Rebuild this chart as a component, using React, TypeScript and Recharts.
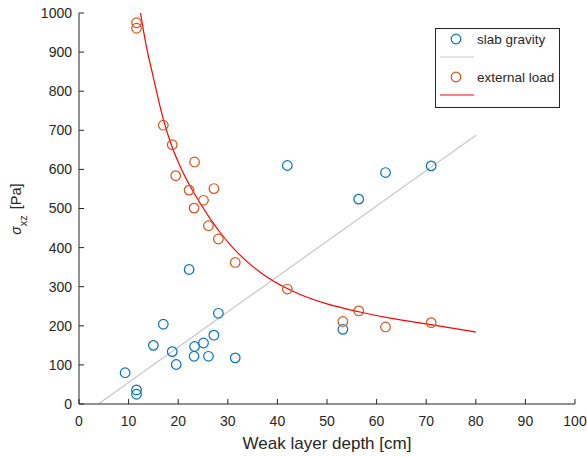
import React from 'react';
import { ComposedChart, Scatter, Line, XAxis, YAxis, Legend } from 'recharts';

// Weak layer depth [cm] vs shear stress [Pa]
const slabDepth = [9.3, 11.6, 11.6, 15.0, 17.0, 18.8, 19.6, 22.2, 23.2, 23.3, 25.1, 26.1, 27.2, 28.1, 31.5, 42.0, 53.2, 56.4, 61.8, 71.0];
const slabStress = [80, 36, 25, 150, 204, 134, 101, 344, 122, 147, 156, 122, 176, 232, 118, 610, 191, 524, 592, 609];

const loadDepth = [11.6, 11.6, 17.0, 18.8, 23.3, 19.5, 22.2, 27.2, 25.1, 23.2, 26.1, 28.1, 31.5, 42.0, 53.2, 56.4, 61.8, 71.0];
const loadStress = [975, 961, 713, 663, 619, 584, 547, 551, 521, 501, 456, 422, 362, 294, 211, 238, 197, 208];

// fitted trends
const gravityFitDepth = [3.9, 80.1];
const gravityFitStress = [0, 688];
const loadFitDepth = [12.4, 13.5, 15, 17, 18.7, 20.5, 22.5, 24.5, 26.5, 28.5, 31, 33.9, 38.2, 44.6, 50, 56.4, 63, 70.9, 80];
const loadFitStress = [1000, 920, 835, 728, 660, 605, 555, 512, 473, 438, 400, 364, 322, 280, 256, 236, 219, 203, 184];

const xTicks = [0, 10, 20, 30, 40, 50, 60, 70, 80, 90, 100];
const yTicks = [0, 100, 200, 300, 400, 500, 600, 700, 800, 900, 1000];

const legendItems = [
  { label: 'slab gravity', marker: '#0072BD', line: '#C8C8C8' },
  { label: 'external load', marker: '#D95319', line: '#FF0000' },
];

const zip = (xs: number[], ys: number[]) => xs.map((x, i) => ({ x, y: ys[i] }));

const slabData = zip(slabDepth, slabStress);
const loadData = zip(loadDepth, loadStress);
const gravityFit = zip(gravityFitDepth, gravityFitStress);
const loadFit = zip(loadFitDepth, loadFitStress);

const FONT = '"Liberation Sans", Arial, Helvetica, sans-serif';
const INK = '#262626';

const ring = (color: string) => (props: any) => (
  <circle cx={props.cx} cy={props.cy} r={4.8} fill="none" stroke={color} strokeWidth={1.2} />
);

const YTitle = () => (
  <text
    x={0}
    y={0}
    transform="translate(21, 209) rotate(-90)"
    textAnchor="middle"
    fontFamily={FONT}
    fill={INK}
  >
    <tspan fontStyle="italic" fontSize={14}>σ</tspan>
    <tspan fontSize={11} dy={6}>xz</tspan>
    <tspan fontSize={14.5} dx={6} dy={-6}>[Pa]</tspan>
  </text>
);

const renderLegend = () => (
  <svg width={125} height={80} style={{ display: 'block' }}>
    <rect x={0.5} y={0.5} width={124} height={79} fill="#fff" stroke={INK} strokeWidth={1} />
    {legendItems.map((item, i) => {
      const y = 11 + i * 38;
      return (
        <g key={item.label}>
          <circle cx={21} cy={y} r={4.8} fill="none" stroke={item.marker} strokeWidth={1.2} />
          <text x={42} y={y} dy="0.35em" fontFamily={FONT} fontSize={13.5} fill={INK}>
            {item.label}
          </text>
          <line x1={5} x2={39} y1={y + 18} y2={y + 18} stroke={item.line} strokeWidth={1.2} />
        </g>
      );
    })}
  </svg>
);

export default function App() {
  return (
    <div style={{ position: 'absolute', left: 0, top: 0, width: 587, height: 457, background: '#fff' }}>
      <ComposedChart width={587} height={457} margin={{ top: 13, right: 12, bottom: 0, left: 0 }}>
        <XAxis
          type="number"
          dataKey="x"
          domain={[0, 100]}
          ticks={xTicks}
          interval={0}
          height={53}
          axisLine={{ stroke: INK }}
          tickLine={{ stroke: INK }}
          tickSize={-5}
          tickMargin={17}
          tick={{ fill: INK, fontSize: 14, fontFamily: FONT }}
          label={{
            value: 'Weak layer depth [cm]',
            position: 'insideBottom',
            offset: 8,
            fill: INK,
            fontSize: 17,
            fontFamily: FONT,
          }}
        />
        <YAxis
          type="number"
          dataKey="y"
          domain={[0, 1000]}
          ticks={yTicks}
          interval={0}
          width={79}
          axisLine={{ stroke: INK }}
          tickLine={{ stroke: INK }}
          tickSize={-5}
          tickMargin={12}
          tick={{ fill: INK, fontSize: 14, fontFamily: FONT }}
          label={{ content: () => <YTitle /> }}
        />
        <Legend
          layout="horizontal"
          verticalAlign="middle"
          align="center"
          content={renderLegend}
          wrapperStyle={{ left: 435, top: 28, width: 125, height: 80 }}
        />
        <Scatter name="slab gravity" data={slabData} dataKey="y" shape={ring('#0072BD')} isAnimationActive={false} />
        <Line
          data={gravityFit}
          dataKey="y"
          type="linear"
          stroke="#C8C8C8"
          strokeWidth={1.2}
          dot={false}
          activeDot={false}
          isAnimationActive={false}
        />
        <Scatter name="external load" data={loadData} dataKey="y" shape={ring('#D95319')} isAnimationActive={false} />
        <Line
          data={loadFit}
          dataKey="y"
          type="monotone"
          stroke="#FF0000"
          strokeWidth={1.2}
          dot={false}
          activeDot={false}
          isAnimationActive={false}
        />
      </ComposedChart>
    </div>
  );
}
